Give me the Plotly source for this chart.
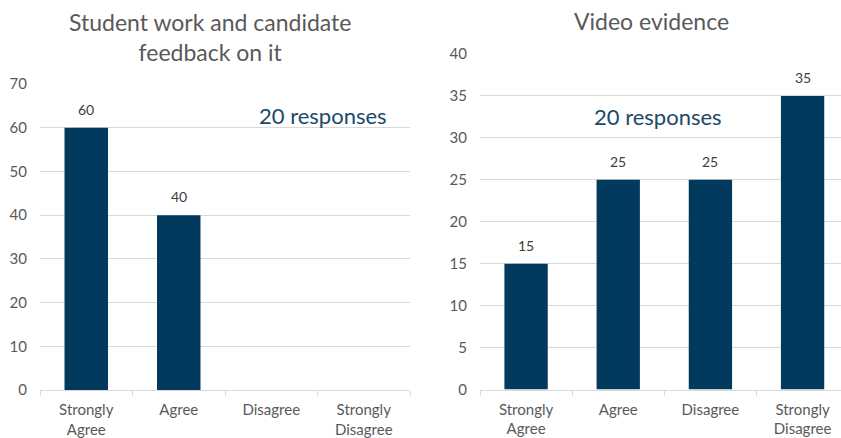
import plotly.graph_objects as go

# Survey results, percentage of responses per category
categories = ["Strongly<br>Agree", "Agree", "Disagree", "Strongly<br>Disagree"]
student_work_pct = [60, 40, 0, 0]
video_evidence_pct = [15, 25, 25, 35]
panel_titles = ["Student work and candidate<br>feedback on it", "Video evidence"]
response_note = "20 responses"

BAR = "#013A5C"
GRID = "#D9D9D9"
TICK_TXT = "#595959"
FONT = "Lato"

W, H = 841, 438

fig = go.Figure()

fig.add_trace(go.Bar(
    x=categories, y=student_work_pct, xaxis="x", yaxis="y",
    marker=dict(color=BAR, line=dict(width=0)), width=0.47,
))
fig.add_trace(go.Bar(
    x=categories, y=video_evidence_pct, xaxis="x2", yaxis="y2",
    marker=dict(color=BAR, line=dict(width=0)), width=0.47,
))

def px_x(v):
    return v / W

def px_y(v):
    return 1 - v / H

xcommon = dict(
    type="category", showgrid=False, showline=True, linecolor=GRID, linewidth=1,
    ticks="outside", tickson="boundaries", ticklen=5, tickcolor=GRID,
    tickfont=dict(family=FONT, size=15, color=TICK_TXT), fixedrange=True,
    ticklabelstandoff=6, automargin=False,
)
ycommon = dict(
    showgrid=True, gridcolor=GRID, gridwidth=1, zeroline=False, showline=False,
    ticks="", tickfont=dict(family=FONT, size=15, color=TICK_TXT),
    ticklabelstandoff=12, fixedrange=True, automargin=False,
)

# Value labels above each non-empty bar
value_labels = []
for xref, yref, vals in (("x", "y", student_work_pct), ("x2", "y2", video_evidence_pct)):
    for cat, v in zip(categories, vals):
        if v:
            value_labels.append(dict(
                text=str(v), x=cat, y=v, xref=xref, yref=yref,
                xanchor="center", yanchor="bottom", yshift=8, showarrow=False,
                font=dict(family=FONT, size=14, color="#404040"),
            ))

fig.update_layout(
    width=W, height=H,
    margin=dict(l=0, r=0, t=0, b=0),
    paper_bgcolor="white", plot_bgcolor="white",
    showlegend=False, bargap=0.5,
    xaxis=dict(xcommon, domain=[px_x(40), px_x(410)], anchor="y", range=[-0.5, 3.5]),
    yaxis=dict(ycommon, domain=[px_y(390), px_y(84)], anchor="x", range=[0, 70], dtick=10),
    xaxis2=dict(xcommon, domain=[px_x(480), 1.0], anchor="y2", range=[-0.5, 3.417]),
    yaxis2=dict(ycommon, domain=[px_y(389.5), px_y(54)], anchor="x2", range=[0, 40], dtick=5),
    annotations=value_labels + [
        dict(text=panel_titles[0], x=px_x(210), y=px_y(37), xref="paper", yref="paper",
             xanchor="center", yanchor="middle", showarrow=False,
             font=dict(family=FONT, size=23, color="#595959")),
        dict(text=panel_titles[1], x=px_x(651), y=px_y(21), xref="paper", yref="paper",
             xanchor="center", yanchor="middle", showarrow=False,
             font=dict(family=FONT, size=23, color="#595959")),
        dict(text=response_note, x=px_x(323), y=px_y(115), xref="paper", yref="paper",
             xanchor="center", yanchor="middle", showarrow=False,
             font=dict(family=FONT, size=22, color="#1B4A68")),
        dict(text=response_note, x=px_x(658), y=px_y(117), xref="paper", yref="paper",
             xanchor="center", yanchor="middle", showarrow=False,
             font=dict(family=FONT, size=22, color="#1B4A68")),
    ],
)

fig.write_html("out.html")
